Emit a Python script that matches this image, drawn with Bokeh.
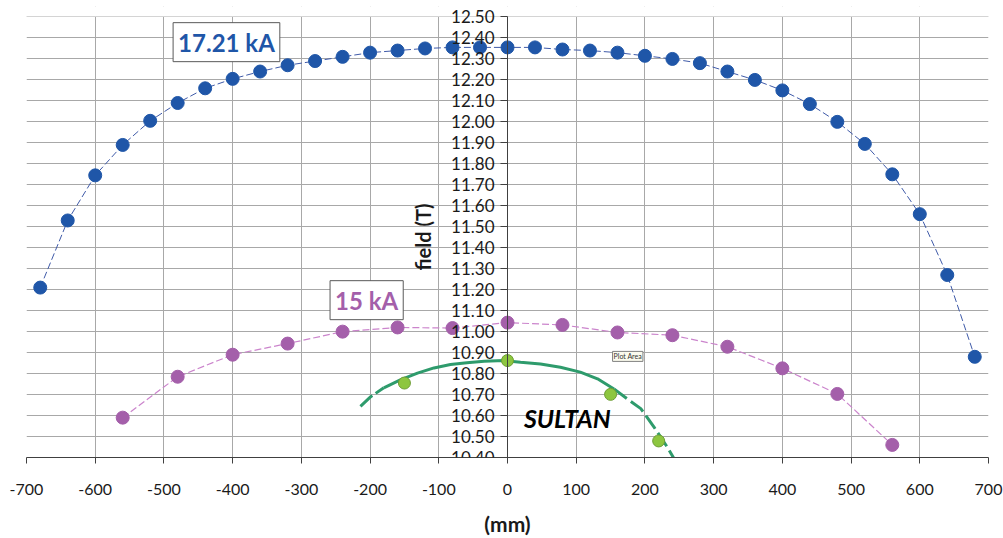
from bokeh.plotting import figure
from bokeh.models import LinearAxis, FixedTicker, Label, Range1d, PrintfTickFormatter, BoxAnnotation
from bokeh.embed import file_html
from bokeh.resources import INLINE

# ---- data ----
x_ticks = [-700, -600, -500, -400, -300, -200, -100, 0, 100, 200, 300, 400, 500, 600, 700]
y_ticks = [10.40, 10.50, 10.60, 10.70, 10.80, 10.90, 11.00, 11.10, 11.20, 11.30, 11.40,
           11.50, 11.60, 11.70, 11.80, 11.90, 12.00, 12.10, 12.20, 12.30, 12.40, 12.50]
y_min, y_max = 10.40, 12.50

# 17.21 kA profile
blue_x = [-680, -640, -600, -560, -520, -480, -440, -400, -360, -320, -280, -240, -200, -160,
          -120, -80, -40, 0, 40, 80, 120, 160, 200, 240, 280, 320, 360, 400, 440, 480, 520,
          560, 600, 640, 680]
blue_y = [11.21, 11.53, 11.745, 11.89, 12.005, 12.09, 12.16, 12.205, 12.24, 12.27, 12.29,
          12.31, 12.33, 12.34, 12.35, 12.355, 12.355, 12.355, 12.355, 12.345, 12.34, 12.33,
          12.315, 12.30, 12.28, 12.24, 12.20, 12.15, 12.085, 12.00, 11.895, 11.75, 11.56,
          11.27, 10.88]

# 15 kA profile
purple_x = [-560, -480, -400, -320, -240, -160, -80, 0, 80, 160, 240, 320, 400, 480, 560]
purple_y = [10.59, 10.785, 10.89, 10.943, 11.00, 11.02, 11.017, 11.043, 11.032, 10.996,
            10.983, 10.928, 10.825, 10.703, 10.46]

# SULTAN measured points
sultan_x = [-150, 0, 150, 220]
sultan_y = [10.755, 10.862, 10.701, 10.479]

# SULTAN field curve
sultan_fit_x = [-214, -199, -180, -156, -131, -107, -83, -59, -34, -5, 19, 48, 77, 106, 131,
                155, 174, 194, 213, 232, 245]
sultan_fit_y = [10.644, 10.69, 10.732, 10.770, 10.802, 10.827, 10.843, 10.852, 10.859, 10.862,
                10.854, 10.846, 10.830, 10.807, 10.775, 10.727, 10.68, 10.633, 10.546, 10.452,
                10.38]

FONT = "Lato"

# a little head-room above 12.50 so the top tick label of the centred axis is not clipped
p = figure(width=1003, height=538, output_backend="svg", toolbar_location=None,
           x_range=Range1d(-700, 700), y_range=Range1d(y_min, y_max + 0.05),
           min_border_left=26, min_border_right=15, min_border_top=6, min_border_bottom=77)
p.background_fill_color = "white"
p.border_fill_color = "white"
p.outline_line_color = None

# grids
p.xaxis.ticker = FixedTicker(ticks=x_ticks)
p.yaxis.ticker = FixedTicker(ticks=y_ticks)
p.yaxis.visible = False
for g in (p.xgrid, p.ygrid):
    g.grid_line_color = "#a8a8a8"
    g.grid_line_width = 1
# mask grid above the top of the plot area
p.add_layout(BoxAnnotation(bottom=y_max + 0.002, fill_color="white", fill_alpha=1.0,
                           line_color=None, level="glyph"))

# x axis
xa = p.xaxis[0]
xa.formatter = PrintfTickFormatter(format="%d")
xa.axis_line_color = "#404040"
xa.major_tick_line_color = "#404040"
xa.major_tick_out = 6
xa.major_tick_in = 0
xa.minor_tick_line_color = None
xa.major_label_text_font = FONT
xa.major_label_text_font_size = "16px"
xa.major_label_text_color = "#1a1a1a"
xa.major_label_standoff = 20
xa.axis_label = "(mm)"
xa.axis_label_text_font = FONT
xa.axis_label_text_font_size = "21px"
xa.axis_label_text_font_style = "bold"
xa.axis_label_text_color = "#1a1a1a"
xa.axis_label_standoff = 13

# y axis crossing at x = 0
ya = LinearAxis(fixed_location=0, ticker=FixedTicker(ticks=y_ticks), bounds=(y_min, y_max),
                formatter=PrintfTickFormatter(format="%.2f"))
ya.axis_line_color = "#404040"
ya.major_tick_line_color = "#404040"
ya.major_tick_out = 7
ya.major_tick_in = 0
ya.minor_tick_line_color = None
ya.major_label_text_font = FONT
ya.major_label_text_font_size = "17px"
ya.major_label_text_color = "#1a1a1a"
ya.major_label_standoff = 6
ya.axis_label = "field (T)"
ya.axis_label_text_font = FONT
ya.axis_label_text_font_size = "20px"
ya.axis_label_text_font_style = "bold"
ya.axis_label_text_color = "#1a1a1a"
ya.axis_label_standoff = 13
p.add_layout(ya, "left")

# 17.21 kA
p.line(blue_x, blue_y, line_color="#3F5AA8", line_width=1, line_dash="7 3")
p.scatter(blue_x, blue_y, size=13, fill_color="#1F56A8", line_color="#1F56A8")

# 15 kA
p.line(purple_x, purple_y, line_color="#CB84CC", line_width=1.2, line_dash="7 3")
p.scatter(purple_x, purple_y, size=13, fill_color="#A45FAA", line_color="#A45FAA")

# SULTAN curve: dashed ends, solid middle
i_l = sultan_fit_x.index(-180)
i_r = sultan_fit_x.index(155)
GREEN = "#2E9B6C"
p.line(sultan_fit_x[:i_l + 1], sultan_fit_y[:i_l + 1], line_color=GREEN, line_width=3, line_dash="16 4")
p.line(sultan_fit_x[i_l:i_r + 1], sultan_fit_y[i_l:i_r + 1], line_color=GREEN, line_width=3)
p.line(sultan_fit_x[i_r:], sultan_fit_y[i_r:], line_color=GREEN, line_width=3, line_dash="16 5")
p.scatter(sultan_x, sultan_y, size=12, fill_color="#8DC63F", line_color="#6E9E35", line_width=1)

# labels
p.add_layout(Label(x=-409, y=12.38, text="17.21 kA", text_font=FONT, text_font_style="bold",
                   text_font_size="24px", text_color="#1F56A8", text_align="center",
                   text_baseline="middle", border_line_color="#595959", border_line_width=1,
                   background_fill_color="white", padding=5))
p.add_layout(Label(x=-205, y=11.15, text="15 kA", text_font=FONT, text_font_style="bold",
                   text_font_size="24px", text_color="#A45FAA", text_align="center",
                   text_baseline="middle", border_line_color="#595959", border_line_width=1,
                   background_fill_color="white", padding=5))
p.add_layout(Label(x=87, y=10.586, text="SULTAN", text_font=FONT, text_font_style="bold italic",
                   text_font_size="25px", text_color="black", text_align="center",
                   text_baseline="middle"))
p.add_layout(Label(x=175, y=10.882, text="Plot Area", text_font=FONT,
                   text_font_size="7px", text_color="#333333", text_align="center",
                   text_baseline="middle", border_line_color="#808080", border_line_width=1,
                   background_fill_color="#fbfbee", padding=1))

open("out.html", "w").write(file_html(p, INLINE))
